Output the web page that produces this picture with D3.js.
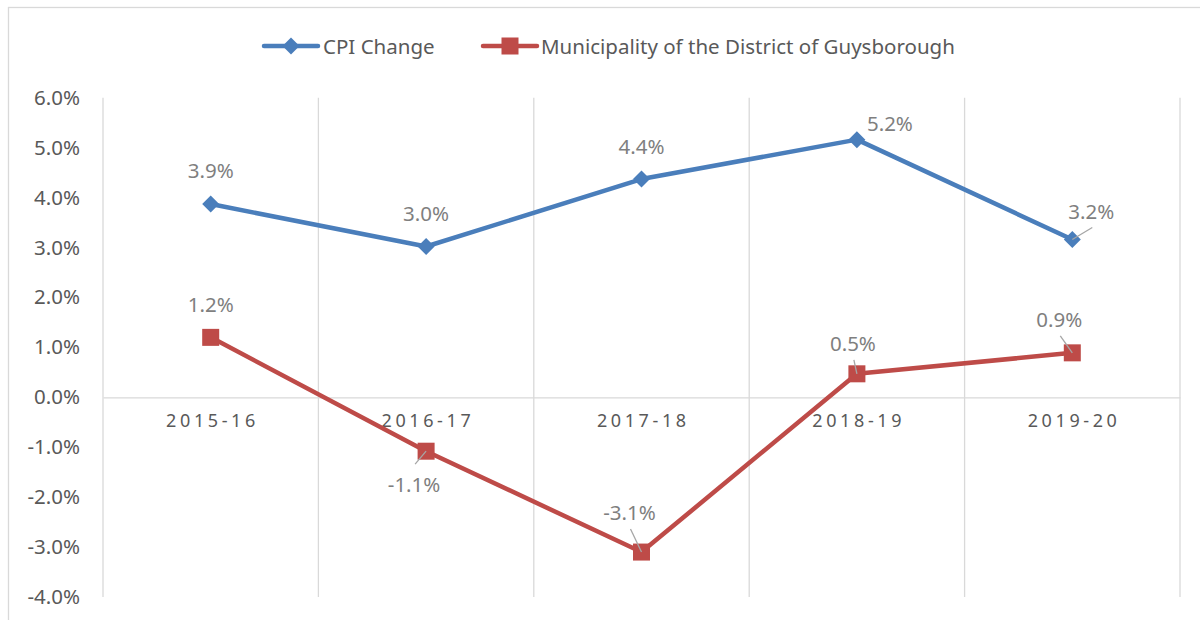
<!DOCTYPE html>
<html>
<head>
<meta charset="utf-8">
<script src="https://cdn.jsdelivr.net/npm/d3@7"></script>
<style>
  html, body { margin: 0; padding: 0; background: #fff; }
  svg { display: block; font-family: "Noto Sans", "Open Sans", sans-serif; }
</style>
</head>
<body>
<svg id="chart" width="1200" height="620"></svg>
<script>
// Fiscal years on the category axis
const categories = ["2015-16", "2016-17", "2017-18", "2018-19", "2019-20"];

// Year-over-year change, in percent
const cpiChange = [3.87, 3.02, 4.37, 5.16, 3.16];
const guysborough = [1.2, -1.08, -3.1, 0.47, 0.89];

// Value axis ticks, in percent
const yTicks = [-4, -3, -2, -1, 0, 1, 2, 3, 4, 5, 6];

const seriesNames = ["CPI Change", "Municipality of the District of Guysborough"];

// Label placement for each point: label centre offset and leader end offset (px)
const cpiLabelPlacement = [
  { dx: 0, dy: -34 }, { dx: 0, dy: -33 }, { dx: 0, dy: -33 },
  { dx: 33, dy: -17 }, { dx: 19, dy: -29, lx: 20, ly: -12 }
];
const guysLabelPlacement = [
  { dx: 0, dy: -33 }, { dx: -12, dy: 33, lx: -11, ly: 13 },
  { dx: -12, dy: -40, lx: -11, ly: -23 }, { dx: -4, dy: -31, lx: -3, ly: -14 },
  { dx: -13, dy: -34, lx: -12, ly: -17 }
];

const svg = d3.select("#chart");
const plot = { left: 103, right: 1180, top: 97.7, bottom: 597 };

// Chart frame
svg.append("rect")
  .attr("x", 8.5).attr("y", 7.5)
  .attr("width", 1220).attr("height", 640)
  .attr("fill", "#fff").attr("stroke", "#d9d9d9").attr("stroke-width", 1.3);

const x = d3.scaleBand().domain(categories).range([plot.left, plot.right]);
const y = d3.scaleLinear().domain([-4, 6]).range([plot.bottom, plot.top]);
const fmt = d => d.toFixed(1) + "%";

// Vertical gridlines at category boundaries
const bounds = categories.map(c => x(c)).concat([plot.right]);
svg.append("g").selectAll("line").data(bounds).join("line")
  .attr("x1", d => d).attr("x2", d => d)
  .attr("y1", y(6)).attr("y2", y(-4))
  .attr("stroke", "#d9d9d9").attr("stroke-width", 1.3);

// Value axis labels
const yAxis = svg.append("g")
  .attr("transform", `translate(${plot.left},0)`)
  .call(d3.axisLeft(y).tickValues(yTicks).tickFormat(fmt).tickSize(0).tickPadding(23));
yAxis.select(".domain").remove();
yAxis.selectAll("text")
  .attr("fill", "#595959").style("font-size", "20.5px")
  .style("font-family", "'Noto Sans', sans-serif");

// Category axis crossing at zero
const xAxis = svg.append("g")
  .attr("transform", `translate(0,${y(0)})`)
  .call(d3.axisBottom(x).tickSize(0).tickSizeOuter(0).tickPadding(17));
xAxis.select(".domain").attr("stroke", "#d9d9d9").attr("stroke-width", 1.3);
xAxis.selectAll("text")
  .attr("fill", "#595959").style("font-size", "18px")
  .style("letter-spacing", "3.6px")
  .style("font-family", "'Noto Sans', sans-serif")
  .attr("dx", "1.8px");

const series = [
  { name: seriesNames[0], values: cpiChange, color: "#4a7ebb", shape: "diamond", place: cpiLabelPlacement },
  { name: seriesNames[1], values: guysborough, color: "#be4b48", shape: "square", place: guysLabelPlacement }
];

const cx = i => x(categories[i]) + x.bandwidth() / 2;
const line = d3.line().x((d, i) => cx(i)).y(d => y(d));

function marker(g, shape, color, px, py) {
  if (shape === "diamond") {
    const r = 8.5;
    g.append("path")
      .attr("d", `M${px},${py - r}L${px + r},${py}L${px},${py + r}L${px - r},${py}Z`)
      .attr("fill", color);
  } else {
    const s = 17;
    g.append("rect")
      .attr("x", px - s / 2).attr("y", py - s / 2)
      .attr("width", s).attr("height", s)
      .attr("fill", color);
  }
}

series.forEach(s => {
  const g = svg.append("g");
  g.append("path").datum(s.values)
    .attr("d", line).attr("fill", "none")
    .attr("stroke", s.color).attr("stroke-width", 4.5)
    .attr("stroke-linejoin", "round").attr("stroke-linecap", "round");
  s.values.forEach((v, i) => marker(g, s.shape, s.color, cx(i), y(v)));

  // Leader lines and data labels
  s.values.forEach((v, i) => {
    const p = s.place[i];
    if (p.lx !== undefined) {
      g.append("line")
        .attr("x1", cx(i)).attr("y1", y(v))
        .attr("x2", cx(i) + p.lx).attr("y2", y(v) + p.ly)
        .attr("stroke", "#a6a6a6").attr("stroke-width", 1.3);
    }
    g.append("text")
      .attr("x", cx(i) + p.dx).attr("y", y(v) + p.dy)
      .attr("text-anchor", "middle").attr("dominant-baseline", "central")
      .attr("fill", "#7f7f7f").style("font-size", "20.5px")
      .text(fmt(v));
  });
});

// Legend
const legendItems = [
  { x: 264, textX: 323, s: series[0] },
  { x: 483, textX: 541, s: series[1] }
];
const legendY = 46;
legendItems.forEach(item => {
  const g = svg.append("g");
  g.append("line")
    .attr("x1", item.x).attr("x2", item.x + 54)
    .attr("y1", legendY).attr("y2", legendY)
    .attr("stroke", item.s.color).attr("stroke-width", 4.5)
    .attr("stroke-linecap", "round");
  marker(g, item.s.shape, item.s.color, item.x + 27, legendY);
  g.append("text")
    .attr("x", item.textX).attr("y", legendY)
    .attr("dominant-baseline", "central")
    .attr("fill", "#595959").style("font-size", "20.5px")
    .text(item.s.name);
});
</script>
</body>
</html>
